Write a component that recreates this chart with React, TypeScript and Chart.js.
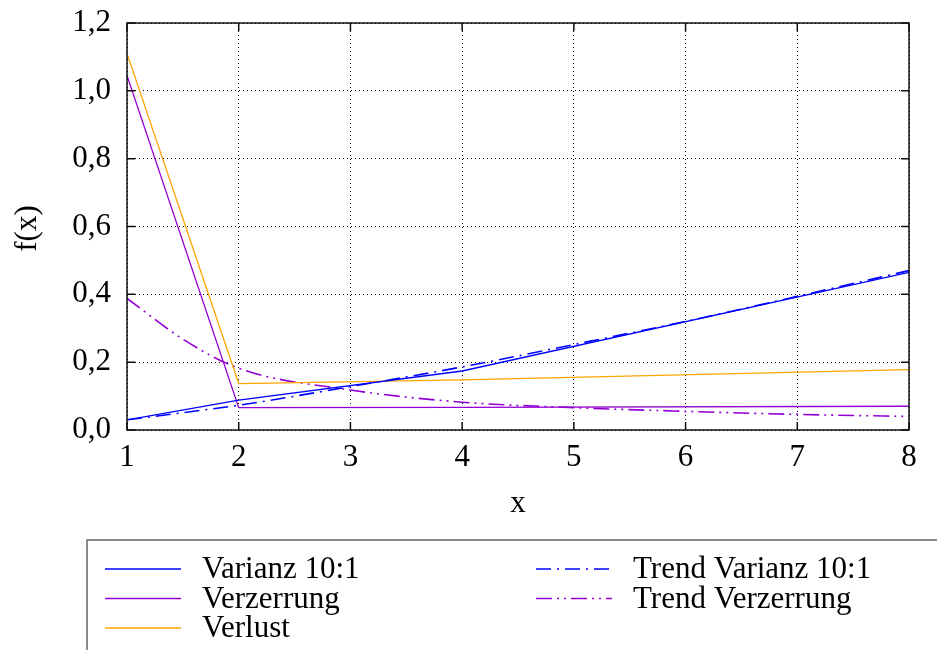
import React, { useEffect, useRef } from "react";
import { Chart, registerables } from "chart.js";

Chart.register(...registerables);

// Measured series (x positions 1, 2, 4, 8)
const measuredX = [1, 2, 4, 8];
const varianzY = [0.03, 0.088, 0.174, 0.465];
const verzerrungY = [1.045, 0.066, 0.067, 0.07];
const verlustY = [1.11, 0.137, 0.148, 0.178];

// Trend curves
const trendX = [1, 1.5, 2, 3, 4, 5, 6, 7, 8];
const trendVarianzY = [0.03, 0.051, 0.073, 0.128, 0.186, 0.252, 0.32, 0.394, 0.47];
const trendVerzerrungY = [0.388, 0.268, 0.182, 0.118, 0.082, 0.066, 0.055, 0.046, 0.04];

const seriesLabels = ["Varianz 10:1", "Verzerrung", "Verlust", "Trend Varianz 10:1", "Trend Verzerrung"];
const xTitle = "x";
const yTitle = "f(x)";

const FONT = "Liberation Serif";
const FSIZE = 31;
const BLUE = "#0000ff";
const PURPLE = "#9400d3";
const ORANGE = "#ffa500";

const toPts = (xs: number[], ys: number[]) => xs.map((x, i) => ({ x, y: ys[i] }));

const decorPlugin = {
  id: "decor",
  afterDraw(chart: any) {
    const { ctx, chartArea: a } = chart;
    const xs = chart.scales.x;
    const ys = chart.scales.y;
    ctx.save();
    // frame
    ctx.setLineDash([]);
    ctx.strokeStyle = "#111";
    ctx.lineWidth = 1.5;
    ctx.strokeRect(a.left, a.top, a.right - a.left, a.bottom - a.top);
    // inward ticks
    const tl = 8;
    ctx.beginPath();
    xs.ticks.forEach((t: any) => {
      const px = xs.getPixelForValue(t.value);
      ctx.moveTo(px, a.bottom);
      ctx.lineTo(px, a.bottom - tl);
      ctx.moveTo(px, a.top);
      ctx.lineTo(px, a.top + tl);
    });
    ys.ticks.forEach((t: any) => {
      const py = ys.getPixelForValue(t.value);
      ctx.moveTo(a.left, py);
      ctx.lineTo(a.left + tl, py);
      ctx.moveTo(a.right, py);
      ctx.lineTo(a.right - tl, py);
    });
    ctx.stroke();

    // axis titles
    ctx.fillStyle = "#000";
    ctx.font = `${FSIZE}px "${FONT}"`;
    ctx.textAlign = "center";
    ctx.textBaseline = "alphabetic";
    ctx.fillText(xTitle, (a.left + a.right) / 2, 512);
    ctx.save();
    ctx.translate(36, (a.top + a.bottom) / 2 + 2);
    ctx.rotate(-Math.PI / 2);
    ctx.fillText(yTitle, 0, 0);
    ctx.restore();

    // legend box
    ctx.strokeStyle = "#666";
    ctx.lineWidth = 1.5;
    ctx.strokeRect(87, 540, 1000, 300);
    const cols = [
      { lx: 105, tx: 202 },
      { lx: 536, tx: 633 },
    ];
    const rowY = [569, 598.5, 628];
    chart.data.datasets.forEach((ds: any, i: number) => {
      const col = i < 3 ? cols[0] : cols[1];
      const row = i < 3 ? i : i - 3;
      const y = rowY[row];
      ctx.strokeStyle = ds.borderColor;
      ctx.lineWidth = ds.borderWidth;
      ctx.setLineDash(ds.borderDash || []);
      ctx.beginPath();
      ctx.moveTo(col.lx, y);
      ctx.lineTo(col.lx + 76, y);
      ctx.stroke();
      ctx.setLineDash([]);
      ctx.fillStyle = "#000";
      ctx.textAlign = "left";
      ctx.textBaseline = "middle";
      ctx.font = `${FSIZE}px "${FONT}"`;
      ctx.fillText(ds.label, col.tx, y + 1);
    });
    ctx.restore();
  },
};

export default function App() {
  const ref = useRef<HTMLCanvasElement>(null);
  useEffect(() => {
    if (!ref.current) return;
    const chart = new Chart(ref.current, {
      type: "line",
      data: {
        datasets: [
          { label: seriesLabels[0], data: toPts(measuredX, varianzY), borderColor: BLUE, borderWidth: 1.3, pointRadius: 0, fill: false },
          { label: seriesLabels[1], data: toPts(measuredX, verzerrungY), borderColor: PURPLE, borderWidth: 1.3, pointRadius: 0, fill: false },
          { label: seriesLabels[2], data: toPts(measuredX, verlustY), borderColor: ORANGE, borderWidth: 1.3, pointRadius: 0, fill: false },
          { label: seriesLabels[3], data: toPts(trendX, trendVarianzY), borderColor: BLUE, borderWidth: 1.6, borderDash: [15, 6, 2, 6], pointRadius: 0, fill: false, cubicInterpolationMode: "monotone" },
          { label: seriesLabels[4], data: toPts(trendX, trendVerzerrungY), borderColor: PURPLE, borderWidth: 1.6, borderDash: [16, 5, 2, 5, 2, 5], pointRadius: 0, fill: false, cubicInterpolationMode: "monotone" },
        ],
      } as any,
      options: {
        responsive: false,
        animation: false,
        devicePixelRatio: 1,
        layout: { padding: { top: 23, right: 28, left: 0, bottom: 0 } },
        plugins: { legend: { display: false }, tooltip: { enabled: false } },
        scales: {
          x: {
            type: "linear",
            min: 1,
            max: 8,
            afterFit: (s: any) => { s.height = 220; s.paddingLeft = 0; s.paddingRight = 0; },
            ticks: { stepSize: 1, color: "#000", padding: 9, font: { family: FONT, size: FSIZE }, maxRotation: 0 },
            grid: { color: "#000", lineWidth: 1, drawTicks: false },
            border: { display: false, dash: [1, 3] },
          },
          y: {
            type: "linear",
            min: 0,
            max: 1.2,
            afterFit: (s: any) => { s.width = 127; s.paddingTop = 0; s.paddingBottom = 0; },
            ticks: {
              stepSize: 0.2,
              color: "#000",
              padding: 16,
              font: { family: FONT, size: FSIZE },
              callback: (v: any) => Number(v).toFixed(1).replace(".", ","),
            },
            grid: { color: "#000", lineWidth: 1, drawTicks: false },
            border: { display: false, dash: [1, 3] },
          },
        },
      } as any,
      plugins: [decorPlugin],
    });
    return () => chart.destroy();
  }, []);
  return (
    <div style={{ position: "fixed", left: 0, top: 0, width: 937, height: 650, background: "#fff" }}>
      <canvas ref={ref} width={937} height={650} style={{ width: 937, height: 650 }} />
    </div>
  );
}
